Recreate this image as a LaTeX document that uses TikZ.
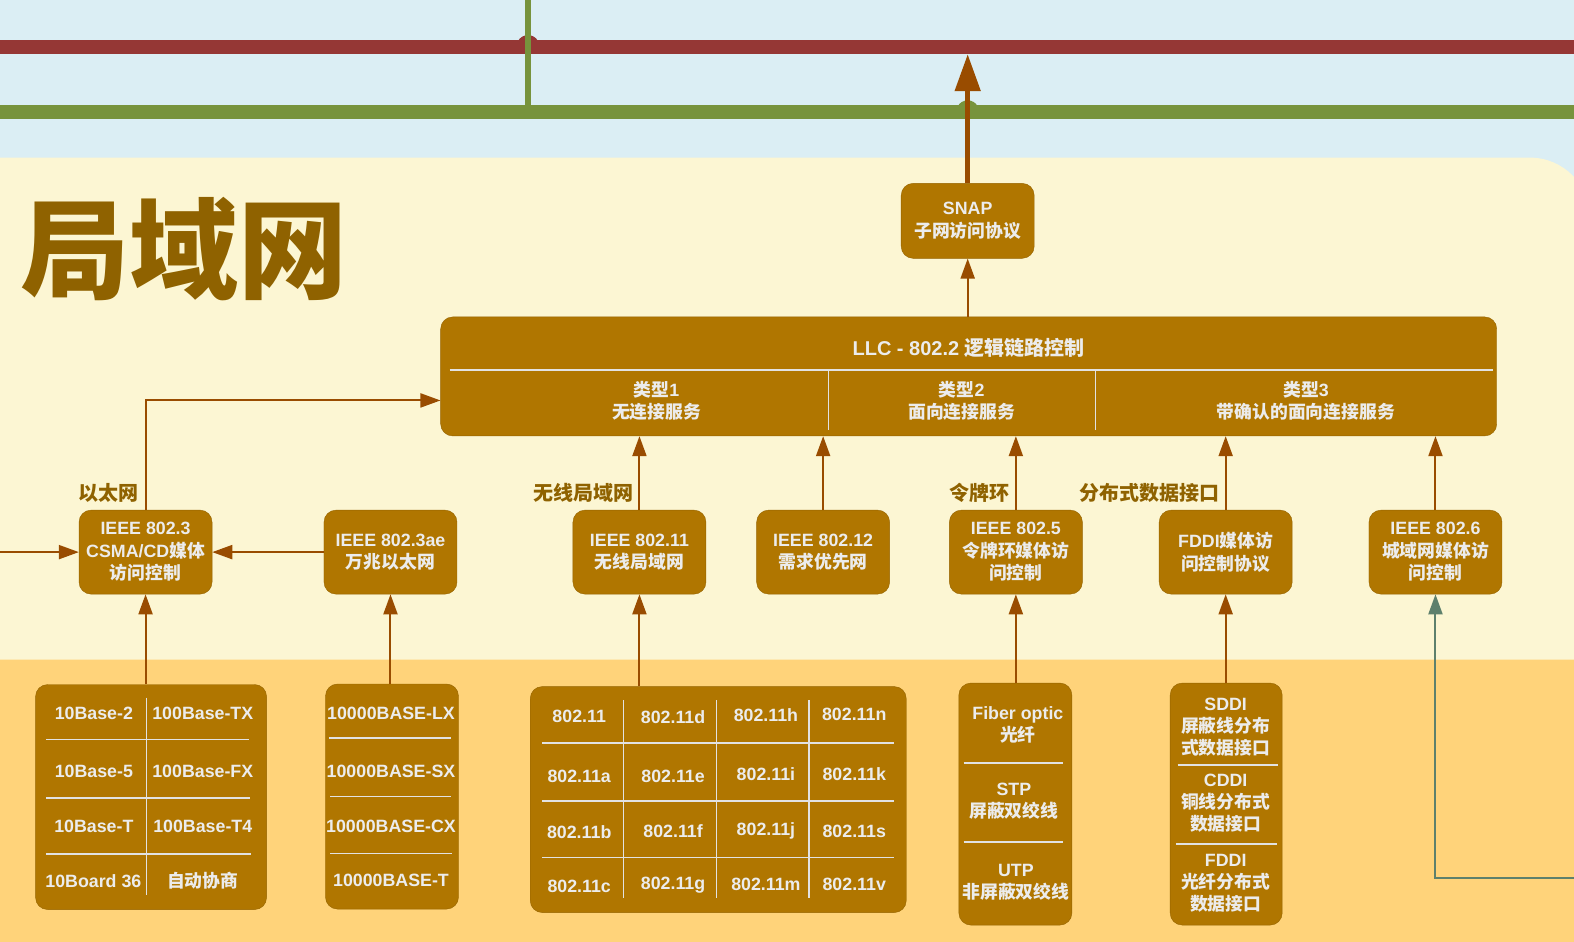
\documentclass[tikz,border=0pt]{standalone}
\usepackage{fontspec}
\setmainfont{Liberation Sans}
\newfontfamily\cjk{Noto Sans CJK SC}
\newcommand{\zh}[1]{{\cjk #1}}
\usetikzlibrary{arrows.meta, positioning}
\definecolor{skyc}{RGB}{219,238,244}
\definecolor{lanc}{RGB}{252,246,211}
\definecolor{phyc}{RGB}{255,211,122}
\definecolor{boxc}{RGB}{176,118,0}
\definecolor{boxlinec}{RGB}{150,100,0}
\definecolor{titlec}{RGB}{143,98,0}
\definecolor{arrc}{RGB}{153,76,0}
\definecolor{redc}{RGB}{149,55,53}
\definecolor{greenc}{RGB}{119,147,60}
\definecolor{linkc}{RGB}{94,128,108}
\definecolor{textc}{RGB}{236,236,236}
\definecolor{divc}{RGB}{226,226,226}
\tikzset{
  x=1.0038pt, y=-1.0038pt, % one unit is one pixel of the sketch,
  % y grows downwards
  arr/.style={-{Triangle[length=20pt,width=14pt]}, draw=arrc,
    line width=2pt}, % thin connector
  bigarr/.style={-{Triangle[length=37pt,width=25pt]}, draw=arrc,
    line width=5pt}, % uplink to the backbone
  mac/.style={draw=boxlinec, fill=boxc, rounded corners=12pt,
    text=textc, align=center, minimum width=133pt,
    minimum height=84pt, inner sep=0pt,
    font=\bfseries\fontsize{17.8}{22.5}\selectfont}, % brown boxes
  cell/.style={text=textc, align=center, inner sep=0pt,
    font=\bfseries\fontsize{17.8}{22}\selectfont}, % text inside a box
  sep/.style={draw=divc, line width=1.5pt}, % divider inside a box
  tag/.style={text=titlec, inner sep=0pt,
    font=\cjk\bfseries\fontsize{20}{24}\selectfont}, % group names
}

\begin{document}
\begin{tikzpicture}
  \useasboundingbox (0,0) rectangle (1568,938);

  % backdrop
  \fill[skyc] (0,0) rectangle (1568,938);
  \fill[lanc] (0,938) -- (0,157) -- (1524,157)
    arc[start angle=270, end angle=360, radius=60] -- (1584,938) -- cycle;
  \fill[phyc] (0,657) -- (1584,657) -- (1584,900)
    arc[start angle=0, end angle=90, radius=60] -- (0,960) -- cycle;
  \draw[redc, line width=14pt] (0,47) -- (1568,47);
  \fill[redc] (516,41) .. controls (520,33) and (532,33) .. (536,41) -- cycle;
  \draw[greenc, line width=6pt] (526,0) -- (526,112);
  \draw[greenc, line width=14pt] (0,112) -- (1568,112);
  \fill[greenc] (954,106) .. controls (958,98) and (970,98) .. (974,106) -- cycle;

  \node[text=titlec, inner sep=0pt,
    font=\cjk\bfseries\fontsize{109}{109}\selectfont] (lan) at (183,248) {局域网};

  % upper layers
  \node[mac, minimum height=75pt] (snap) at (964,220) {SNAP\\\zh{子网访问协议}};
  \node[mac, minimum width=1056pt, minimum height=119pt] (llc) at (965,375) {};
  \node[cell, font=\bfseries\fontsize{20}{24}\selectfont] (llcname) at (965,347)
    {LLC - 802.2 \zh{逻辑链路控制}};
  \node[cell] (kind1) at (654,399) {\zh{类型}1\\\zh{无连接服务}};
  \node[cell] (kind2) at (958,399) {\zh{类型}2\\\zh{面向连接服务}};
  \node[cell] (kind3) at (1301,399) {\zh{类型}3\\\zh{带确认的面向连接服务}};
  \draw[sep] (448,368.5) -- (1487,368.5);
  \draw[sep] (825.5,370) -- (825.5,428);
  \draw[sep] (1091.5,370) -- (1091.5,428);

  % media access row
  \node[mac] (eth) at (145,550) {IEEE 802.3\\CSMA/CD\zh{媒体}\\\zh{访问控制}};
  \node[mac] (tengig) at (389,550) {IEEE 802.3ae\\\zh{万兆以太网}};
  \node[mac] (wlan) at (637,550) {IEEE 802.11\\\zh{无线局域网}};
  \node[mac] (prio) at (820,550) {IEEE 802.12\\\zh{需求优先网}};
  \node[mac] (token) at (1012,550) {IEEE 802.5\\\zh{令牌环媒体访}\\\zh{问控制}};
  \node[mac] (fddi) at (1221,550) {FDDI\zh{媒体访}\\\zh{问控制协议}};
  \node[mac] (man) at (1430,550) {IEEE 802.6\\\zh{城域网媒体访}\\\zh{问控制}};

  \node[tag] (ethtag) at (108,491) {以太网};
  \node[tag] (wlantag) at (581,491) {无线局域网};
  \node[tag] (tokentag) at (976,491) {令牌环};
  \node[tag] (fdditag) at (1145,491) {分布式数据接口};

  % physical media
  \node[mac, minimum width=231pt, minimum height=225pt] (ethtab) at (150.5,794) {};
  \node[cell] (e1) at (93.5,711) {10Base-2};
  \node[cell] (e2) at (202,711) {100Base-TX};
  \node[cell] (e3) at (93.5,768) {10Base-5};
  \node[cell] (e4) at (202,768) {100Base-FX};
  \node[cell] (e5) at (93.5,823.5) {10Base-T};
  \node[cell] (e6) at (202,823.5) {100Base-T4};
  \node[cell] (e7) at (93,877.5) {10Board 36};
  \node[cell] (e8) at (202,877.5) {\zh{自动协商}};
  \draw[sep] (146,695) -- (146,892);
  \draw[sep] (46,736.5) -- (248,736.5);
  \draw[sep] (46,795) -- (249,795);
  \draw[sep] (46,850.5) -- (250,850.5);

  \node[mac, minimum width=133pt, minimum height=225pt] (tentab) at (390.5,793.5) {};
  \node[cell] (t1) at (389.5,711) {10000BASE-LX};
  \node[cell] (t2) at (389.5,768) {10000BASE-SX};
  \node[cell] (t3) at (389.5,823.5) {10000BASE-CX};
  \node[cell] (t4) at (389.5,877.5) {10000BASE-T};
  \draw[sep] (328,735) -- (449,735);
  \draw[sep] (329,793.5) -- (449,793.5);
  \draw[sep] (329,850) -- (450,850);

  \node[mac, minimum width=376pt, minimum height=226pt] (wlantab) at (715.5,796.5) {};
  \node[cell] (w1) at (577,714) {802.11};
  \node[cell] (w2) at (670.5,714) {802.11d};
  \node[cell] (w3) at (763,712) {802.11h};
  \node[cell] (w4) at (851,712) {802.11n};
  \node[cell] (w5) at (577,773) {802.11a};
  \node[cell] (w6) at (670.5,773) {802.11e};
  \node[cell] (w7) at (763,771) {802.11i};
  \node[cell] (w8) at (851,771) {802.11k};
  \node[cell] (w9) at (577,829) {802.11b};
  \node[cell] (w10) at (670.5,828) {802.11f};
  \node[cell] (w11) at (763,828) {802.11j};
  \node[cell] (w12) at (851,828) {802.11s};
  \node[cell] (w13) at (577,883) {802.11c};
  \node[cell] (w14) at (670.5,882) {802.11g};
  \node[cell] (w15) at (763,881) {802.11m};
  \node[cell] (w16) at (851,881) {802.11v};
  \draw[sep] (621,697.5) -- (621,894.5);
  \draw[sep] (714,697.5) -- (714,894.5);
  \draw[sep] (806,697.5) -- (806,894.5);
  \draw[sep] (540,740) -- (890.5,740);
  \draw[sep] (540,798) -- (890.5,798);
  \draw[sep] (540,854) -- (890.5,854);

  \node[mac, minimum width=113pt, minimum height=242pt] (fibtab) at (1011.5,801) {};
  \node[cell] (f1) at (1014,722) {Fiber optic\\\zh{光纤}};
  \node[cell] (f2) at (1010,798) {STP\\\zh{屏蔽双绞线}};
  \node[cell] (f3) at (1012,878.5) {UTP\\\zh{非屏蔽双绞线}};
  \draw[sep] (960,760) -- (1059,760);
  \draw[sep] (960,839) -- (1059,839);

  \node[mac, minimum width=112pt, minimum height=242pt] (sdditab) at (1221.5,801) {};
  \node[cell] (d1) at (1221,724.5) {SDDI\\\zh{屏蔽线分布}\\\zh{式数据接口}};
  \node[cell] (d2) at (1221,800.5) {CDDI\\\zh{铜线分布式}\\\zh{数据接口}};
  \node[cell] (d3) at (1221,880) {FDDI\\\zh{光纤分布式}\\\zh{数据接口}};
  \draw[sep] (1173,762) -- (1273,762);
  \draw[sep] (1172,841) -- (1272,841);

  % connectors
  \coordinate (feed) at (0,550);
  \coordinate (backbone) at (964,54);
  \coordinate (metro) at (1568,875);
  \draw[arr] (feed) -- (eth.west);
  \draw[arr] (tengig.west) -- (eth.east);
  \draw[arr] (eth.north) |- ([yshift=-24pt]llc.west);
  \draw[arr] (wlan.north) -- (wlan.north |- llc.south);
  \draw[arr] (prio.north) -- (prio.north |- llc.south);
  \draw[arr] (token.north) -- (token.north |- llc.south);
  \draw[arr] (fddi.north) -- (fddi.north |- llc.south);
  \draw[arr] (man.north) -- (man.north |- llc.south);
  \draw[arr] (snap.south |- llc.north) -- (snap.south);
  \draw[bigarr] (snap.north) -- (backbone);
  \draw[arr] (eth.south |- ethtab.north) -- (eth.south);
  \draw[arr] (tengig.south |- tentab.north) -- (tengig.south);
  \draw[arr] (wlan.south |- wlantab.north) -- (wlan.south);
  \draw[arr] (token.south |- fibtab.north) -- (token.south);
  \draw[arr] (fddi.south |- sdditab.north) -- (fddi.south);
  \draw[arr, draw=linkc] (metro) -| (man.south);
\end{tikzpicture}
\end{document}
